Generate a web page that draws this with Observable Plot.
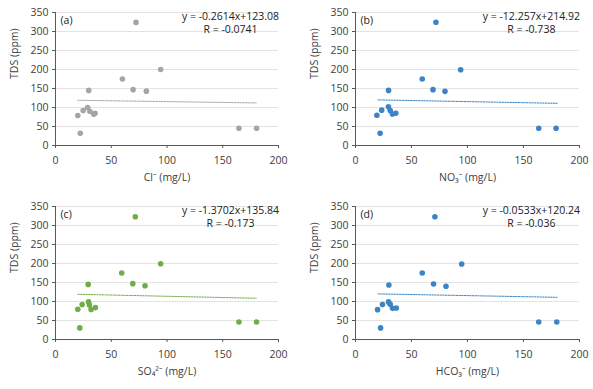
<!DOCTYPE html>
<html>
<head>
<meta charset="utf-8">
<script src="https://cdn.jsdelivr.net/npm/d3@7"></script>
<script src="https://cdn.jsdelivr.net/npm/@observablehq/plot@0.6"></script>
<style>
  html, body { margin: 0; padding: 0; background: #fff; }
  #grid { display: grid; grid-template-columns: 296px 297px; grid-template-rows: 194px 195px; width: 593px; }
  #grid svg { display: block; }
</style>
</head>
<body>
<div id="grid"></div>
<script>
// ---- Data ----
const tdsTicks = [0, 50, 100, 150, 200, 250, 300, 350];
const ionTicks = [0, 50, 100, 150, 200];

const panelLetters = ["(a)", "(b)", "(c)", "(d)"];
const xLabels = ["Cl⁻ (mg/L)", "NO₃⁻ (mg/L)", "SO₄²⁻ (mg/L)", "HCO₃⁻ (mg/L)"];
const equations = ["y = -0.2614x+123.08", "y = -12.257x+214.92", "y = -1.3702x+135.84", "y = -0.0533x+120.24"];
const rValues = ["R = -0.0741", "R = -0.738", "R = -0.173", "R = -0.036"];
const colors = ["#a5a5a5", "#3d84c6", "#70ad47", "#3d84c6"];

const clX  = [20, 22.2, 24.8, 28.8, 29.8, 30.8, 34.3, 35.5, 60, 69.6, 72.2, 81.5, 94.3, 164.5, 180.3];
const clY  = [79, 32, 92, 100, 145, 90, 82, 85, 175, 147, 324, 143, 200, 45.5, 45.5];
const no3X = [19.1, 22, 23.4, 29.4, 29.5, 31, 33, 36, 59.6, 69.2, 71.8, 79.9, 93.9, 163.6, 179.1];
const no3Y = [79.5, 32, 93, 102, 145, 92, 83, 85, 175, 147, 324.5, 142.5, 199.5, 45.5, 45.5];
const so4X = [20, 21.8, 23.9, 29.6, 29.3, 30.4, 31.9, 35.8, 59.4, 69.3, 71.6, 80.3, 94.3, 164.5, 180.3];
const so4Y = [79.5, 30.5, 92, 99.5, 145, 91, 79, 84, 175, 147, 323, 141.5, 199.5, 46, 46];
const hco3X = [19.7, 22.4, 24.1, 29.5, 29.8, 31, 33.1, 36.4, 59.6, 69.7, 70.9, 80.8, 94.8, 163.6, 179.7];
const hco3Y = [78.5, 30.5, 92, 99, 143.5, 92.5, 82, 83, 175, 146, 323, 140, 198.5, 46, 46];

// trend lines as drawn (endpoints)
const trendX = [20, 180];
const trendYa = [119, 112];
const trendYb = [120, 111];
const trendYc = [119, 108.5];
const trendYd = [120, 111];

const seriesX = [clX, no3X, so4X, hco3X];
const seriesY = [clY, no3Y, so4Y, hco3Y];
const trendYs = [trendYa, trendYb, trendYc, trendYd];

const font = "'Open Sans', 'Noto Sans', sans-serif";
const textColor = "#404040";
const fs = 10.5;
const grid = document.getElementById("grid");

for (let i = 0; i < 4; i++) {
  const right = i % 2 === 1;
  const w = right ? 297 : 296;
  const pts = seriesX[i].map((x, j) => ({x, y: seriesY[i][j]}));
  const trend = trendX.map((x, j) => ({x, y: trendYs[i][j]}));
  const chart = Plot.plot({
    width: w,
    height: 194,
    marginLeft: right ? 59 : 55,
    marginRight: right ? 14 : 18,
    marginTop: 12,
    marginBottom: 49,
    style: {fontFamily: font, fontSize: fs + "px", color: textColor, background: "white"},
    x: {domain: [0, 200]},
    y: {domain: [0, 350]},
    marks: [
      Plot.ruleY(tdsTicks.filter(d => d > 0), {stroke: "#e3e3e3", strokeWidth: 1}),
      Plot.line(trend, {x: "x", y: "y", stroke: colors[i], strokeWidth: 1, strokeDasharray: "1.5,1.2"}),
      Plot.dot(pts, {x: "x", y: "y", r: 2.8, fill: colors[i], stroke: "none"}),
      Plot.ruleX([0], {stroke: "#595959", strokeWidth: 1}),
      Plot.ruleY([0], {stroke: "#595959", strokeWidth: 1}),
      Plot.axisX({ticks: ionTicks, tickSize: 3, tickPadding: 8, stroke: "#595959", fill: textColor, label: null, fontSize: fs}),
      Plot.axisY({ticks: tdsTicks, tickSize: 3, tickPadding: 4, stroke: "#595959", fill: textColor, label: null, fontSize: fs}),
      Plot.text([xLabels[i]], {frameAnchor: "bottom", dy: 35, fill: textColor, fontSize: fs}),
      Plot.text(["TDS (ppm)"], {frameAnchor: "left", dx: -41, rotate: -90, fill: textColor, fontSize: fs}),
      Plot.text([panelLetters[i]], {frameAnchor: "top-left", dx: 5, dy: 4, textAnchor: "start", fill: "#222", fontSize: fs}),
      Plot.text([equations[i]], {x: () => 157, y: () => 338, fill: "#222", fontSize: fs}),
      Plot.text([rValues[i]], {x: () => 157, y: () => 305, fill: "#222", fontSize: fs})
    ]
  });
  grid.appendChild(chart);
}
</script>
</body>
</html>
